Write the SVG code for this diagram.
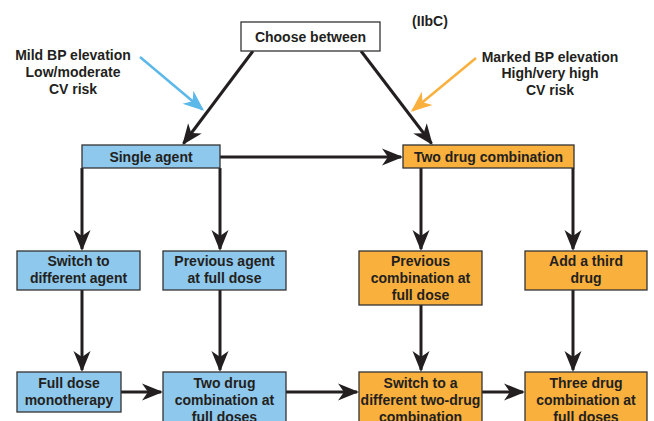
<svg xmlns="http://www.w3.org/2000/svg" width="654" height="421" viewBox="0 0 654 421">
<style>
text{font-family:"Liberation Sans",Arial,sans-serif;font-weight:bold;font-size:14px;fill:#231f20;text-anchor:middle}
.box{stroke:#333;stroke-width:1.3}
.blue{fill:#8ec8ec}
.orange{fill:#f9b03c}
.white{fill:#fff}
.conn{stroke:#231f20;stroke-width:3;fill:none;marker-end:url(#ah)}
</style>
<defs>
<marker id="ah" markerUnits="userSpaceOnUse" markerWidth="24" markerHeight="20" viewBox="0 -10 24 20" refX="19" refY="0" orient="auto">
<path d="M0,-8.5 L21,0 L0,8.5 L6,0 Z" fill="#231f20"/>
</marker>
<marker id="ahb" markerUnits="userSpaceOnUse" markerWidth="24" markerHeight="20" viewBox="0 -10 24 20" refX="19" refY="0" orient="auto">
<path d="M0,-8.5 L21,0 L0,8.5 L6,0 Z" fill="#5bb8e8"/>
</marker>
<marker id="aho" markerUnits="userSpaceOnUse" markerWidth="24" markerHeight="20" viewBox="0 -10 24 20" refX="19" refY="0" orient="auto">
<path d="M0,-8.5 L21,0 L0,8.5 L6,0 Z" fill="#f9b03c"/>
</marker>
</defs>
<rect width="654" height="421" fill="#fff"/>
<g id="connectors">
<line class="conn" x1="253" y1="51" x2="183.5" y2="143.5"/>
<line class="conn" x1="361" y1="51" x2="431.5" y2="143.5"/>
<line class="conn" x1="220" y1="157" x2="401" y2="157"/>
<line class="conn" x1="82" y1="168" x2="82" y2="249"/>
<line class="conn" x1="220" y1="168" x2="220" y2="249"/>
<line class="conn" x1="421" y1="168" x2="421" y2="249"/>
<line class="conn" x1="573" y1="168" x2="573" y2="249"/>
<line class="conn" x1="82" y1="290" x2="82" y2="370"/>
<line class="conn" x1="220" y1="290" x2="220" y2="370"/>
<line class="conn" x1="421" y1="305" x2="421" y2="370"/>
<line class="conn" x1="573" y1="290" x2="573" y2="370"/>
<line class="conn" x1="121" y1="392" x2="161" y2="392"/>
<line class="conn" x1="286" y1="392" x2="357" y2="392"/>
<line class="conn" x1="482" y1="392" x2="523" y2="392"/>
<line x1="140" y1="57" x2="202.5" y2="109.5" stroke="#5bb8e8" stroke-width="2.5" marker-end="url(#ahb)"/>
<line x1="476" y1="58" x2="412.5" y2="110.5" stroke="#f9b03c" stroke-width="2.5" marker-end="url(#aho)"/>
</g>
<g id="label-mild">
<text x="73" y="60">Mild BP elevation</text>
<text x="73" y="77">Low/moderate</text>
<text x="73" y="94">CV risk</text>
</g>
<g id="label-marked">
<text x="550" y="62">Marked BP elevation</text>
<text x="550" y="78">High/very high</text>
<text x="550" y="95">CV risk</text>
</g>
<g id="label-class"><text x="430" y="26">(IIbC)</text></g>
<g id="choose">
<rect class="box white" x="241" y="22" width="139" height="29"/>
<text x="310.5" y="42">Choose between</text>
</g>
<g id="single">
<rect class="box blue" x="82" y="145" width="138" height="23"/>
<text x="151" y="162">Single agent</text>
</g>
<g id="twodrug">
<rect class="box orange" x="403" y="145" width="171" height="23"/>
<text x="488.5" y="162">Two drug combination</text>
</g>
<g id="switch-agent">
<rect class="box blue" x="17" y="251" width="123" height="39"/>
<text x="78.5" y="266">Switch to</text>
<text x="78.5" y="283">different agent</text>
</g>
<g id="prev-agent">
<rect class="box blue" x="163" y="251" width="123" height="39"/>
<text x="224.5" y="266">Previous agent</text>
<text x="224.5" y="283">at full dose</text>
</g>
<g id="prev-comb">
<rect class="box orange" x="359" y="251" width="123" height="54"/>
<text x="420.5" y="266">Previous</text>
<text x="420.5" y="283">combination at</text>
<text x="420.5" y="300">full dose</text>
</g>
<g id="add-third">
<rect class="box orange" x="525" y="251" width="122" height="39"/>
<text x="586" y="266">Add a third</text>
<text x="586" y="283">drug</text>
</g>
<g id="full-mono">
<rect class="box blue" x="17" y="372" width="104" height="40"/>
<text x="69" y="388">Full dose</text>
<text x="69" y="405">monotherapy</text>
</g>
<g id="two-full">
<rect class="box blue" x="163" y="372" width="123" height="60"/>
<text x="224.5" y="388">Two drug</text>
<text x="224.5" y="405">combination at</text>
<text x="224.5" y="422">full doses</text>
</g>
<g id="switch-two">
<rect class="box orange" x="359" y="372" width="123" height="60"/>
<text x="420.5" y="388">Switch to a</text>
<text x="420.5" y="405">different two-drug</text>
<text x="420.5" y="422">combination</text>
</g>
<g id="three-full">
<rect class="box orange" x="525" y="372" width="122" height="60"/>
<text x="586" y="388">Three drug</text>
<text x="586" y="405">combination at</text>
<text x="586" y="422">full doses</text>
</g>
</svg>
